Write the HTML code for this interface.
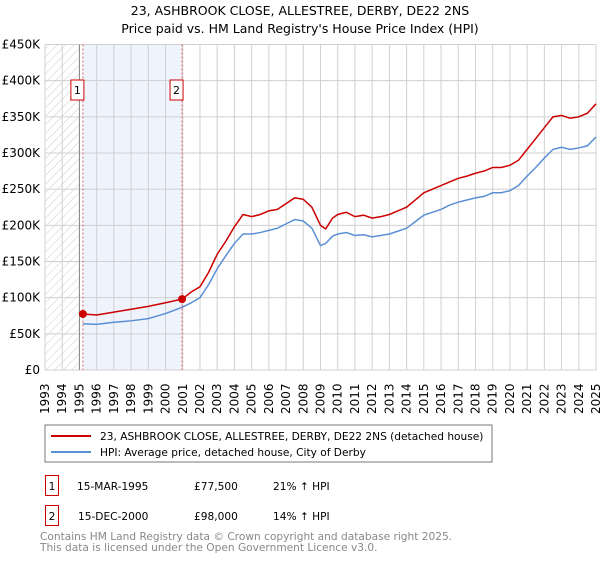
<!DOCTYPE html>
<html><head><meta charset="utf-8"><style>
body{margin:0;background:#fff;font-family:"Liberation Sans","DejaVu Sans",sans-serif;}
svg text{font-family:"DejaVu Sans","Liberation Sans",sans-serif;}
</style></head><body>
<svg id="c" width="600" height="560" xmlns="http://www.w3.org/2000/svg">
<defs><pattern id="hatch" width="6" height="6" patternUnits="userSpaceOnUse" patternTransform="rotate(45)"><line x1="0" y1="0" x2="0" y2="6" stroke="#ccc" stroke-width="1"/></pattern></defs>
<text x="300" y="15" text-anchor="middle" font-size="12.5">23, ASHBROOK CLOSE, ALLESTREE, DERBY, DE22 2NS</text>
<text x="300" y="33" text-anchor="middle" font-size="12.5">Price paid vs. HM Land Registry's House Price Index (HPI)</text>
<g id="plot"></g>
<rect x="45" y="425" width="447" height="37" fill="#fff" stroke="#777"/>
<line x1="51" y1="436" x2="91" y2="436" stroke="#cc0000" stroke-width="2"/>
<text x="100" y="440" font-size="10.6">23, ASHBROOK CLOSE, ALLESTREE, DERBY, DE22 2NS (detached house)</text>
<line x1="51" y1="452" x2="91" y2="452" stroke="#5b8fd4" stroke-width="2"/>
<text x="100" y="456" font-size="10.6">HPI: Average price, detached house, City of Derby</text>
<g font-size="10.6">
<rect x="45.5" y="475.5" width="13" height="20" fill="#fff" stroke="#cc0000"/><text x="52" y="490" text-anchor="middle">1</text>
<text x="77" y="490">15-MAR-1995</text><text x="194" y="490">£77,500</text><text x="273" y="490">21% ↑ HPI</text></g>
<g font-size="10.6">
<rect x="45.5" y="505.5" width="13" height="20" fill="#fff" stroke="#cc0000"/><text x="52" y="520" text-anchor="middle">2</text>
<text x="78" y="520">15-DEC-2000</text><text x="194" y="520">£98,000</text><text x="273" y="520">14% ↑ HPI</text></g>
<text x="40" y="540" font-size="10.6" fill="#888">Contains HM Land Registry data © Crown copyright and database right 2025.</text>
<text x="40" y="551" font-size="10.6" fill="#888">This data is licensed under the Open Government Licence v3.0.</text>
</svg>
<script>
const yTicks=[0,50000,100000,150000,200000,250000,300000,350000,400000,450000];
const yTickLabels=["£0","£50K","£100K","£150K","£200K","£250K","£300K","£350K","£400K","£450K"];
const years=[1993,1994,1995,1996,1997,1998,1999,2000,2001,2002,2003,2004,2005,2006,2007,2008,2009,2010,2011,2012,2013,2014,2015,2016,2017,2018,2019,2020,2021,2022,2023,2024,2025];
const saleDates=[1995.2,2000.96];
const salePrices=[77500,98000];
const saleLabels=["1","2"];
const propT=[1995.2,1996,1997,1998,1999,2000,2000.96,2001.5,2002,2002.5,2003,2003.5,2004,2004.5,2005,2005.5,2006,2006.5,2007,2007.5,2008,2008.5,2009,2009.3,2009.7,2010,2010.5,2011,2011.5,2012,2012.5,2013,2013.5,2014,2014.5,2015,2015.5,2016,2016.5,2017,2017.5,2018,2018.5,2019,2019.5,2020,2020.5,2021,2021.5,2022,2022.5,2023,2023.5,2024,2024.5,2025];
const propV=[77.5,76,80,84,88,93,98,108,115,135,160,178,198,215,212,215,220,222,230,238,236,225,200,195,210,215,218,212,214,210,212,215,220,225,235,245,250,255,260,265,268,272,275,280,280,283,290,305,320,335,350,352,348,350,355,368];
const hpiT=[1995.2,1996,1997,1998,1999,2000,2001,2001.5,2002,2002.5,2003,2003.5,2004,2004.5,2005,2005.5,2006,2006.5,2007,2007.5,2008,2008.5,2009,2009.3,2009.7,2010,2010.5,2011,2011.5,2012,2012.5,2013,2013.5,2014,2014.5,2015,2015.5,2016,2016.5,2017,2017.5,2018,2018.5,2019,2019.5,2020,2020.5,2021,2021.5,2022,2022.5,2023,2023.5,2024,2024.5,2025];
const hpiV=[64,63,66,68,71,78,87,93,100,118,140,158,175,188,188,190,193,196,202,208,206,196,172,175,185,188,190,186,187,184,186,188,192,196,205,214,218,222,228,232,235,238,240,245,245,248,255,268,280,293,305,308,305,307,310,322];
const X0=45,X1=596,Y0=370,Y1=44.5;
const xs=t=>X0+(t-1993)/(2025-1993)*(X1-X0);
const ys=v=>Y0-v/450000*(Y0-Y1);
const NS="http://www.w3.org/2000/svg",g=document.getElementById('plot');
function mk(tag,a,p){const e=document.createElementNS(NS,tag);for(const k in a)e.setAttribute(k,a[k]);(p||g).appendChild(e);return e;}
let e;
e=mk('rect',{x:xs(saleDates[0]),y:Y1,width:xs(saleDates[1])-xs(saleDates[0]),height:Y0-Y1,fill:'#eef3fc'});


e=mk('rect',{x:X0,y:Y1,width:xs(1995)-X0,height:Y0-Y1,fill:'url(#hatch)'});


years.forEach(y=>{e=mk('line',{x1:xs(y),x2:xs(y),y1:Y1,y2:Y0,stroke:'#d0d0d0'});


e=mk('text',{x:0,y:0,'font-size':12,transform:`translate(${xs(y)+4},${Y0+44}) rotate(-90)`});e.textContent=y;

});
yTicks.forEach((v,i)=>{e=mk('line',{x1:X0,x2:X1,y1:ys(v),y2:ys(v),stroke:'#d0d0d0'});


e=mk('text',{x:40,y:ys(v)+4,'font-size':12,'text-anchor':'end'});e.textContent=yTickLabels[i];

});
e=mk('line',{x1:xs(1995),x2:xs(1995),y1:Y1,y2:Y0,stroke:'#888'});


saleDates.forEach((d,i)=>{e=mk('line',{x1:xs(d),x2:xs(d),y1:Y1,y2:Y0,stroke:'#e06060','stroke-dasharray':'2,2'});


e=mk('rect',{x:xs(d)-12,y:80,width:13,height:20,fill:'#fff',stroke:'#cc0000'});


e=mk('text',{x:xs(d)-5.5,y:94,'font-size':11,'text-anchor':'middle'});e.textContent=saleLabels[i];

});
e=mk('polyline',{points:hpiT.map((t,i)=>xs(t)+','+ys(hpiV[i]*1000)).join(' '),fill:'none',stroke:'#5b8fd4','stroke-width':1.5});


e=mk('polyline',{points:propT.map((t,i)=>xs(t)+','+ys(propV[i]*1000)).join(' '),fill:'none',stroke:'#cc0000','stroke-width':1.5});


saleDates.forEach((d,i)=>{e=mk('circle',{cx:xs(d),cy:ys(salePrices[i]),r:4,fill:'#cc0000'});

});
</script>
</body></html>
